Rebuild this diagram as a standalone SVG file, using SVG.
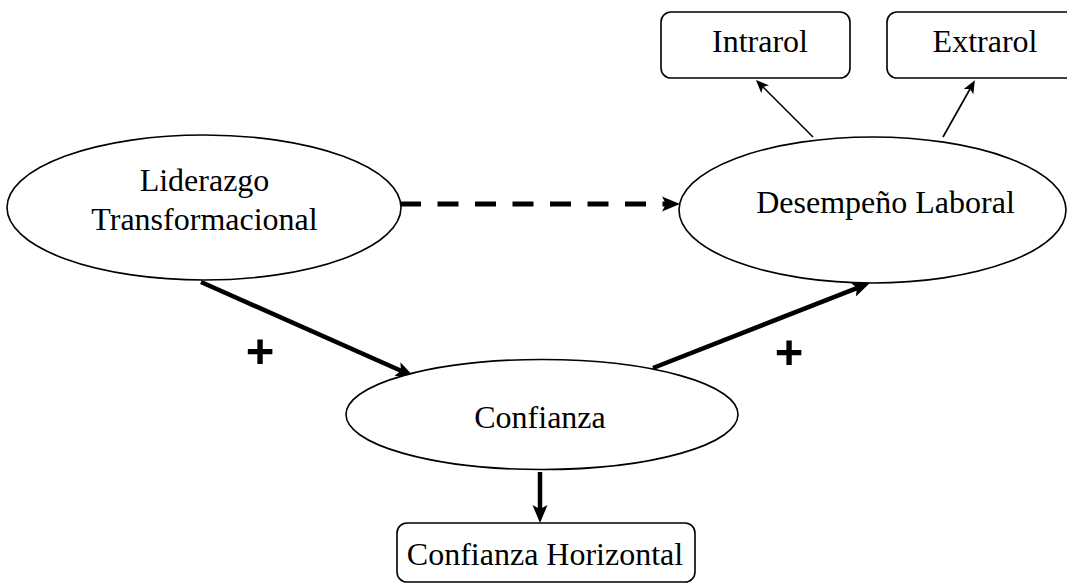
<svg xmlns="http://www.w3.org/2000/svg" width="1067" height="585" viewBox="0 0 1067 585">
  <style>
    .node { fill: #ffffff; stroke: #000000; stroke-width: 1.6; }
    .label { font-family: "Liberation Serif", "Times New Roman", serif; font-size: 32px; fill: #000000; text-anchor: middle; }
    .sign { font-family: "Liberation Sans", Arial, sans-serif; font-size: 49px; font-weight: bold; fill: #000000; text-anchor: middle; }
    .thin { stroke: #000000; stroke-width: 1.6; fill: none; marker-end: url(#headThin); }
    .thick { stroke: #000000; stroke-width: 4.5; fill: none; marker-end: url(#headThick); }
    .dashed { stroke: #000000; stroke-width: 5; fill: none; stroke-dasharray: 21 16.5; marker-end: url(#headThick); }
  </style>
  <defs>
    <marker id="headThin" markerUnits="userSpaceOnUse" markerWidth="16" markerHeight="14" viewBox="0 -7 16 14" refX="3" refY="0" orient="auto">
      <path d="M0,-5.5 L13,0 L0,5.5 L3,0 Z" fill="#000000"/>
    </marker>
    <marker id="headThick" markerUnits="userSpaceOnUse" markerWidth="20" markerHeight="18" viewBox="0 -9 20 18" refX="4" refY="0" orient="auto">
      <path d="M0,-7.5 L18,0 L0,7.5 L4,0 Z" fill="#000000"/>
    </marker>
  </defs>

  <rect width="1067" height="585" fill="#ffffff"/>

  <!-- connectors -->
  <g id="connectors">
    <line class="thin" x1="813" y1="137" x2="763" y2="87"/>
    <line class="thin" x1="943" y1="137" x2="970" y2="89"/>
    <line class="dashed" x1="400" y1="204" x2="666" y2="204"/>
    <line class="thick" x1="201" y1="282" x2="401" y2="370.8"/>
    <line class="thick" x1="653" y1="368" x2="856.9" y2="288.1"/>
    <line class="thick" x1="540" y1="472" x2="540" y2="509"/>
  </g>

  <!-- nodes -->
  <g id="liderazgo">
    <ellipse class="node" cx="204" cy="207.5" rx="197" ry="72.5"/>
    <text class="label" x="204.5" y="191">Liderazgo</text>
    <text class="label" x="204.5" y="230">Transformacional</text>
  </g>
  <g id="desempeno">
    <ellipse class="node" cx="872.5" cy="210" rx="193.5" ry="73"/>
    <text class="label" x="885.5" y="213">Desempeño Laboral</text>
  </g>
  <g id="confianza">
    <ellipse class="node" cx="542" cy="414.5" rx="196" ry="55"/>
    <text class="label" x="540" y="428">Confianza</text>
  </g>
  <g id="intrarol">
    <rect class="node" x="661" y="12" width="189" height="66" rx="10" ry="10"/>
    <text class="label" x="760" y="52">Intrarol</text>
  </g>
  <g id="extrarol">
    <rect class="node" x="887" y="12" width="190" height="66" rx="10" ry="10"/>
    <text class="label" x="985" y="52">Extrarol</text>
  </g>
  <g id="confianza-horizontal">
    <rect class="node" x="397" y="523" width="298" height="59" rx="10" ry="10"/>
    <text class="label" x="545" y="565">Confianza Horizontal</text>
  </g>

  <!-- signs of the effects -->
  <text class="sign" x="260" y="368">+</text>
  <text class="sign" x="789" y="369">+</text>
</svg>
